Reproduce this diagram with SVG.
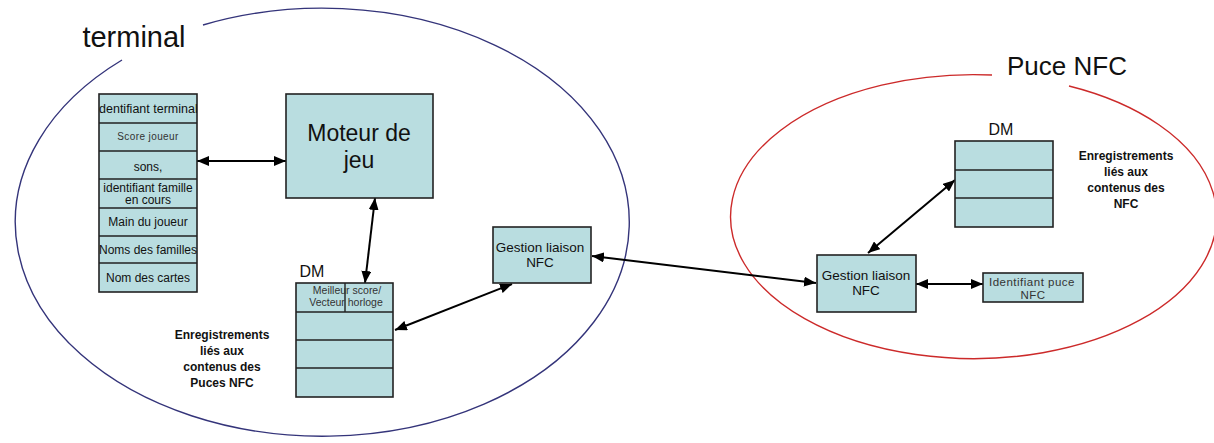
<svg xmlns="http://www.w3.org/2000/svg" width="1214" height="443" viewBox="0 0 1214 443">
<style>
.box{fill:#b9dde0;stroke:#222;stroke-width:1.6}
.sep{stroke:#222;stroke-width:1.4;fill:none}
.t{font-family:"Liberation Sans",Arial,sans-serif;fill:#111;text-anchor:middle}
.g{fill:#333}
.b{font-weight:bold}
.con{stroke:#000;stroke-width:2;fill:none;marker-start:url(#ah);marker-end:url(#ah)}
</style>
<defs>
<marker id="ah" viewBox="0 0 12 10" refX="12" refY="5" markerWidth="12" markerHeight="10" markerUnits="userSpaceOnUse" orient="auto-start-reverse">
<path d="M0,0 L12,5 L0,10 z" fill="#000"/>
</marker>
<clipPath id="listclip"><rect x="99" y="94" width="98" height="198"/></clipPath>
</defs>
<rect width="1214" height="443" fill="#fff"/>

<g id="terminal-boundary">
<path d="M 203 25 A 307 214 0 1 1 122 60" fill="none" stroke="#34347a" stroke-width="1.4"/>
<text class="t" x="134" y="47" font-size="29">terminal</text>
</g>

<g id="puce-boundary">
<path d="M 1069 86 A 243 142 0 1 1 992 75" fill="none" stroke="#cc2a2a" stroke-width="1.4"/>
<text class="t" x="1067" y="75" font-size="26">Puce NFC</text>
</g>

<g id="connectors">
<line class="con" x1="197" y1="161" x2="286" y2="161"/>
<line class="con" x1="375" y1="198" x2="365" y2="283"/>
<line class="con" x1="395" y1="330" x2="512" y2="284"/>
<line class="con" x1="592" y1="256" x2="816" y2="283"/>
<line class="con" x1="868" y1="253" x2="955" y2="180"/>
<line class="con" x1="916" y1="284" x2="983" y2="284"/>
</g>

<g id="liste-terminal">
<rect class="box" x="99" y="94" width="98" height="198"/>
<path class="sep" d="M99 123H197M99 151H197M99 179H197M99 208H197M99 236H197M99 263H197"/>
<g clip-path="url(#listclip)">
<text class="t" x="147" y="113" font-size="12.5">identifiant terminal</text>
<text class="t g" x="148" y="140" font-size="10" letter-spacing="0.4">Score joueur</text>
<text class="t" x="148" y="171" font-size="12">sons,</text>
<text class="t" x="148" y="192" font-size="12">identifiant famille</text>
<text class="t" x="148" y="204" font-size="12">en cours</text>
<text class="t" x="148" y="226" font-size="12">Main du joueur</text>
<text class="t" x="148" y="254" font-size="12">Noms des familles</text>
<text class="t" x="148" y="282" font-size="12">Nom des cartes</text>
</g>
</g>

<g id="moteur">
<rect class="box" x="286" y="94" width="147" height="104"/>
<text class="t" x="359" y="141" font-size="23">Moteur de</text>
<text class="t" x="359" y="168" font-size="23">jeu</text>
</g>

<g id="dm-terminal">
<text class="t" x="312" y="277" font-size="16">DM</text>
<rect class="box" x="296" y="283" width="97" height="114"/>
<path class="sep" d="M296 312H393M296 340H393M296 368H393M345 283V312"/>
<text class="t g" x="347" y="294" font-size="10.5">Meilleur score/</text>
<text class="t g" x="346" y="306" font-size="10.5">Vecteur horloge</text>
</g>

<g id="enreg-terminal">
<text class="t b" x="222" y="339" font-size="12">Enregistrements</text>
<text class="t b" x="222" y="355" font-size="12">liés aux</text>
<text class="t b" x="222" y="371" font-size="12">contenus des</text>
<text class="t b" x="222" y="387" font-size="12">Puces NFC</text>
</g>

<g id="gestion-terminal">
<rect class="box" x="493" y="227" width="98" height="56"/>
<text class="t" x="540" y="252" font-size="13.5">Gestion liaison</text>
<text class="t" x="540" y="267" font-size="13.5">NFC</text>
</g>

<g id="dm-puce">
<text class="t" x="1001" y="135" font-size="16">DM</text>
<rect class="box" x="955" y="141" width="98" height="86"/>
<path class="sep" d="M955 170H1053M955 198H1053"/>
</g>

<g id="enreg-puce">
<text class="t b" x="1126" y="160" font-size="12">Enregistrements</text>
<text class="t b" x="1126" y="176" font-size="12">liés aux</text>
<text class="t b" x="1126" y="192" font-size="12">contenus des</text>
<text class="t b" x="1126" y="208" font-size="12">NFC</text>
</g>

<g id="gestion-puce">
<rect class="box" x="817" y="255" width="99" height="57"/>
<text class="t" x="866" y="280" font-size="13.5">Gestion liaison</text>
<text class="t" x="866" y="295" font-size="13.5">NFC</text>
</g>

<g id="identifiant-puce">
<rect class="box" x="983" y="273" width="100" height="29"/>
<text class="t g" x="1032" y="286" font-size="11.5" letter-spacing="0.5">Identifiant puce</text>
<text class="t g" x="1033" y="299" font-size="11.5" letter-spacing="0.5">NFC</text>
</g>
</svg>
